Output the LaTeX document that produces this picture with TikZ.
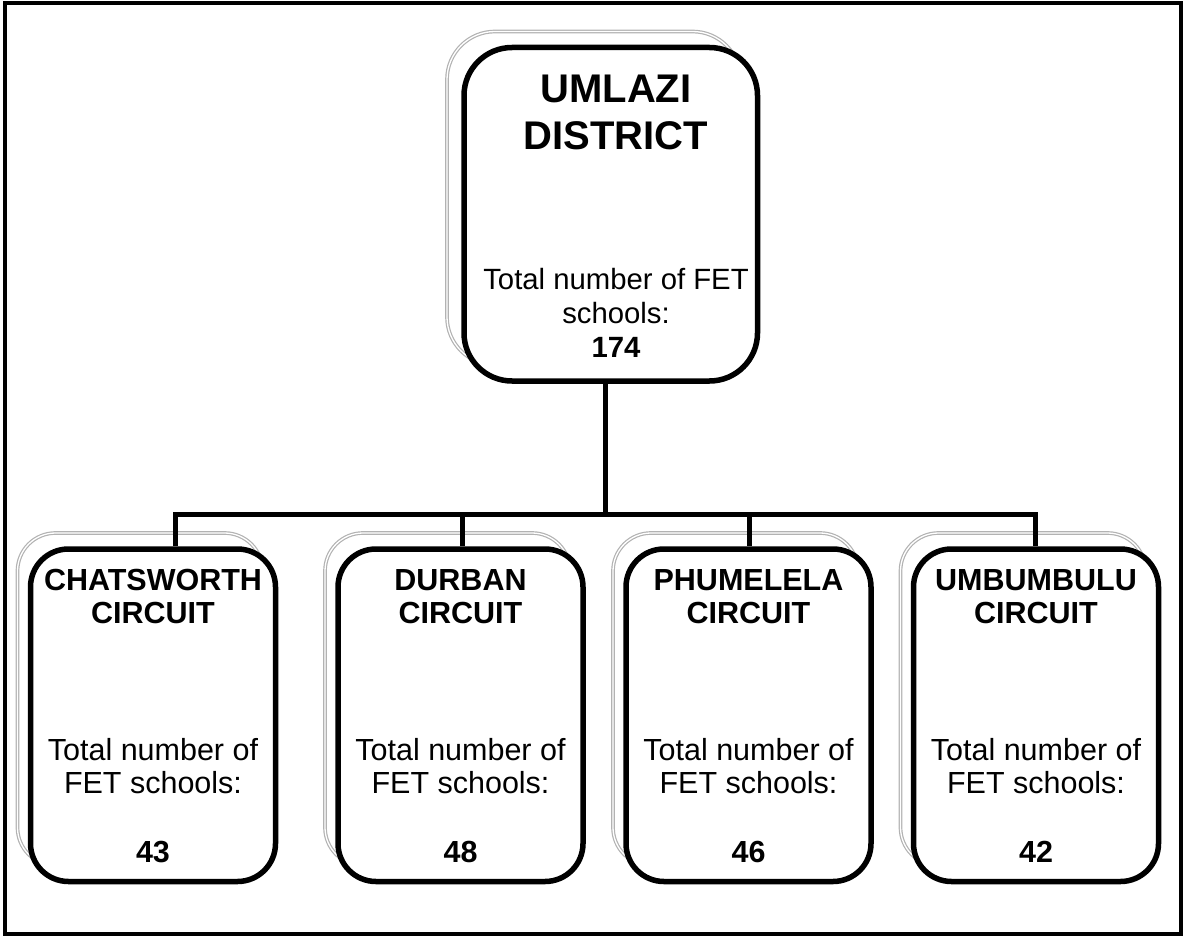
\documentclass[tikz,border=0pt]{standalone}
\usepackage{fontspec}
\setmainfont{Liberation Sans}
\begin{document}
\begin{tikzpicture}[x=1pt,y=-1pt,
  frame/.style={draw, line width=4pt},
  card/.style={draw, line width=5.5pt, fill=white, rounded corners=#1, inner sep=0pt},
  card/.default=38pt,
  ghost/.style={draw=gray!60, line width=1.2pt, double=white, double distance=1.3pt,
                rounded corners=#1, inner sep=0pt},
  ghost/.default=38pt,
  link/.style={line width=5pt},
  head/.style={anchor=base, inner sep=0pt, font=\fontsize{40}{46}\selectfont\bfseries},
  ttxt/.style={anchor=base, inner sep=0pt, font=\fontsize{29.3}{33}\selectfont},
  tbtxt/.style={anchor=base, inner sep=0pt, font=\fontsize{29.3}{33}\selectfont\bfseries},
  txt/.style={anchor=base, inner sep=0pt, font=\fontsize{30.5}{33}\selectfont},
  btxt/.style={anchor=base, inner sep=0pt, font=\fontsize{30.5}{33}\selectfont\bfseries},
]
\useasboundingbox (0,0) rectangle (1185,936);
\draw[frame] (5,3.5) rectangle (1181,933.5);

% shadow outlines behind the cards
\node[ghost=48pt, minimum width=293.5pt, minimum height=333.5pt] (districtsh) at (593.75,198.25) {};
\foreach \cx/\nm in {153/chatssh, 460.5/durbansh, 748.5/phumsh, 1036/umbsh}
  \node[ghost, minimum width=245pt, minimum height=332.5pt] (\nm) at (\cx-13,699.25) {};

% cards
\node[card=48pt, minimum width=293.5pt, minimum height=333.5pt] (district) at (610.75,214.25) {};
\node[card, minimum width=245pt, minimum height=332.5pt] (chats)  at (153,715.25) {};
\node[card, minimum width=245pt, minimum height=332.5pt] (durban) at (460.5,715.25) {};
\node[card, minimum width=245pt, minimum height=332.5pt] (phum)   at (748.5,715.25) {};
\node[card, minimum width=245pt, minimum height=332.5pt] (umb)    at (1036,715.25) {};

% connectors
\coordinate (hub) at (605.5,514);
\coordinate (j1) at (175,514);
\coordinate (j2) at (462,514);
\coordinate (j3) at (749,514);
\coordinate (j4) at (1035,514);
\draw[link] (district.south -| hub) -- (hub);
\draw[link] (chats.north -| j1) -- (j1) -- (j4) -- (umb.north -| j4);
\draw[link] (j2) -- (durban.north -| j2);
\draw[link] (j3) -- (phum.north -| j3);

% district texts
\node[head]  (d1) at (616,103) {UMLAZI};
\node[head]  (d2) at (616,149.3) {DISTRICT};
\node[ttxt]  (d3) at (616,289.3) {Total number of FET};
\node[ttxt]  (d4) at (616,323) {schools:};
\node[tbtxt] (d5) at (616,357) {174};

% circuit texts
\foreach \cx/\a/\n/\k in {153/CHATSWORTH/43/c, 460.5/DURBAN/48/d, 748.5/PHUMELELA/46/p, 1036/UMBUMBULU/42/u} {
  \node[btxt] (\k1) at (\cx,590) {\a};
  \node[btxt] (\k2) at (\cx,623) {CIRCUIT};
  \node[txt]  (\k3) at (\cx,760) {Total number of};
  \node[txt]  (\k4) at (\cx,793) {FET schools:};
  \node[btxt] (\k5) at (\cx,862) {\n};
}
\end{tikzpicture}
\end{document}
